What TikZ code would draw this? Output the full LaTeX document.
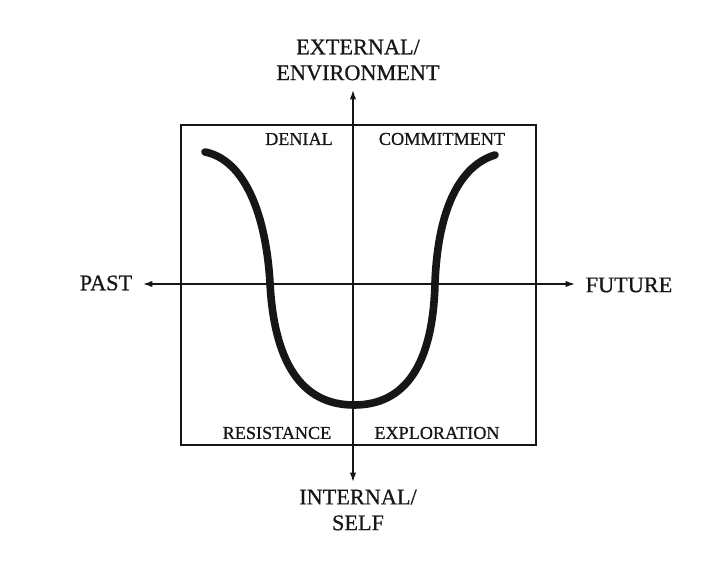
\documentclass[tikz,border=0pt]{standalone}
\usepackage{fontspec}
\setmainfont[FakeBold=0.6]{Liberation Serif}
\usetikzlibrary{arrows.meta}
\definecolor{ink}{HTML}{161616}

\begin{document}
\begin{tikzpicture}[x=0.03cm, y=-0.03cm,
  frame/.style={draw=ink, line width=1.5pt},
  axisline/.style={draw=ink, line width=1.2pt, -{Latex[length=8pt,width=5.5pt]}},
  axislabel/.style={text=ink, font=\fontsize{19}{22}\selectfont, align=center, inner sep=0pt},
  quadlabel/.style={text=ink, font=\fontsize{15.5}{18}\selectfont, inner sep=0pt},
  ucurve/.style={draw=ink, line width=6.5pt, line cap=round}]
  \useasboundingbox[fill=white] (0,0) rectangle (723,562);
  % frame and the two axes
  \coordinate (nw) at (181,125);
  \coordinate (se) at (536,445);
  \coordinate (o) at (353,284);
  \coordinate (up) at (353,90);
  \coordinate (down) at (353,482);
  \coordinate (back) at (143,284);
  \coordinate (ahead) at (575,284);
  \draw[frame] (nw) rectangle (se);
  \foreach \tip in {up,down,back,ahead}
    \draw[axisline] (o) -- (\tip);
  % axis labels
  \node[axislabel] (ext) at (358,60) {EXTERNAL/\\ENVIRONMENT};
  \node[axislabel] (int) at (358,510) {INTERNAL/\\SELF};
  \node[axislabel] (past) at (106,283) {PAST};
  \node[axislabel] (future) at (629,285) {FUTURE};
  % quadrant labels
  \foreach \name/\x/\y/\txt in {denial/299/139/DENIAL, commit/442/139/COMMITMENT,
      resist/277/433/RESISTANCE, explore/437/433/EXPLORATION}
    \node[quadlabel] (\name) at (\x,\y) {\txt};
  % the change curve
  \draw[ucurve] (205,152) .. controls (245,160) and (266,215) .. (270,283)
    .. controls (274,360) and (300,405) .. (354,405)
    .. controls (405,405) and (433,365) .. (435,283)
    .. controls (438,205) and (462,165) .. (495,155);
\end{tikzpicture}
\end{document}
